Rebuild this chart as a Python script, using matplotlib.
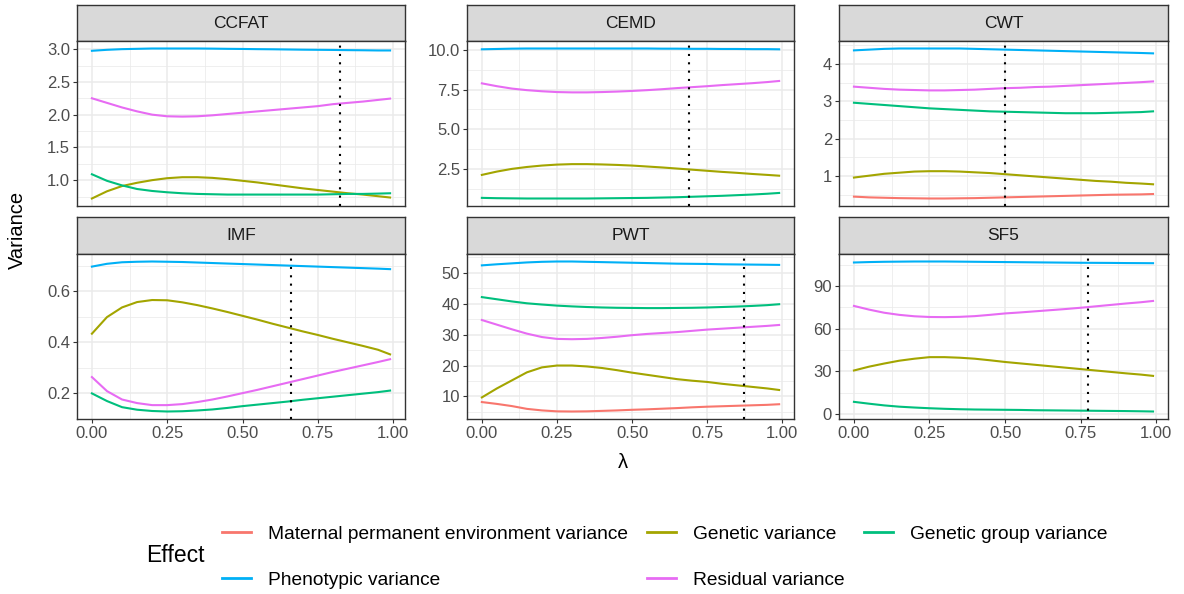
import matplotlib
matplotlib.use("Agg")
import matplotlib.pyplot as plt
import numpy as np

plt.rcParams["font.family"] = ["Liberation Sans", "DejaVu Sans"]

# --- data ---
lam = [0, .05, .1, .15, .2, .25, .3, .35, .4, .45, .5,
       .55, .6, .65, .7, .75, .8, .85, .9, .95, .99]

traits = ["CCFAT", "CEMD", "CWT", "IMF", "PWT", "SF5"]
lam_opt = [0.824, 0.69, 0.50, 0.66, 0.874, 0.774]

effects = ["Maternal permanent environment variance", "Genetic variance",
           "Genetic group variance", "Phenotypic variance", "Residual variance"]
colores = ["#F8766D", "#A3A500", "#00BF7D", "#00B0F6", "#E76BF3"]

ccfat_mat = None
ccfat_gen = [0.72, 0.83, 0.91, 0.96, 1.0, 1.03, 1.045, 1.045, 1.035, 1.015, 0.99,
             0.965, 0.935, 0.905, 0.875, 0.85, 0.825, 0.8, 0.78, 0.755, 0.735]
ccfat_gg = [1.09, 0.99, 0.92, 0.865, 0.835, 0.815, 0.8, 0.79, 0.785, 0.78, 0.78,
            0.78, 0.78, 0.78, 0.78, 0.78, 0.785, 0.79, 0.79, 0.795, 0.8]
ccfat_phen = [2.975, 2.99, 3.0, 3.005, 3.01, 3.01, 3.01, 3.01, 3.008, 3.005, 3.003,
              3.0, 2.998, 2.995, 2.992, 2.99, 2.988, 2.985, 2.983, 2.98, 2.98]
ccfat_res = [2.25, 2.18, 2.11, 2.05, 2.0, 1.975, 1.97, 1.975, 1.99, 2.01, 2.03,
             2.05, 2.07, 2.09, 2.11, 2.13, 2.16, 2.18, 2.2, 2.225, 2.245]

cemd_mat = None
cemd_gen = [2.12, 2.33, 2.5, 2.62, 2.71, 2.77, 2.8, 2.8, 2.78, 2.75, 2.71,
            2.65, 2.59, 2.52, 2.45, 2.38, 2.31, 2.25, 2.18, 2.12, 2.07]
cemd_gg = [0.67, 0.65, 0.64, 0.63, 0.63, 0.63, 0.63, 0.63, 0.64, 0.65, 0.66,
           0.67, 0.69, 0.71, 0.74, 0.77, 0.8, 0.84, 0.88, 0.93, 0.98]
cemd_phen = [10.05, 10.07, 10.09, 10.1, 10.1, 10.1, 10.1, 10.1, 10.1, 10.1, 10.1,
             10.1, 10.09, 10.09, 10.08, 10.08, 10.07, 10.07, 10.06, 10.06, 10.05]
cemd_res = [7.9, 7.72, 7.57, 7.47, 7.4, 7.35, 7.33, 7.33, 7.35, 7.38, 7.42,
            7.47, 7.53, 7.6, 7.66, 7.72, 7.79, 7.85, 7.91, 7.98, 8.05]

cwt_mat = [0.45, 0.43, 0.42, 0.41, 0.405, 0.40, 0.40, 0.405, 0.41, 0.42, 0.43,
           0.44, 0.45, 0.46, 0.47, 0.48, 0.49, 0.5, 0.505, 0.51, 0.52]
cwt_gen = [0.96, 1.01, 1.06, 1.09, 1.12, 1.13, 1.13, 1.12, 1.1, 1.08, 1.05,
           1.02, 0.99, 0.96, 0.93, 0.9, 0.87, 0.85, 0.82, 0.8, 0.78]
cwt_gg = [2.96, 2.93, 2.9, 2.87, 2.84, 2.81, 2.79, 2.77, 2.75, 2.73, 2.72,
          2.71, 2.7, 2.69, 2.68, 2.68, 2.68, 2.69, 2.7, 2.71, 2.73]
cwt_phen = [4.36, 4.38, 4.4, 4.41, 4.41, 4.41, 4.41, 4.41, 4.4, 4.39, 4.38,
            4.37, 4.36, 4.35, 4.34, 4.33, 4.32, 4.31, 4.3, 4.29, 4.28]
cwt_res = [3.39, 3.36, 3.33, 3.31, 3.3, 3.29, 3.29, 3.3, 3.31, 3.33, 3.35,
           3.36, 3.38, 3.39, 3.41, 3.43, 3.45, 3.47, 3.49, 3.51, 3.53]

imf_mat = None
imf_gen = [0.433, 0.498, 0.536, 0.557, 0.565, 0.564, 0.556, 0.545, 0.532, 0.518, 0.503,
           0.488, 0.472, 0.457, 0.442, 0.428, 0.413, 0.399, 0.385, 0.37, 0.352]
imf_gg = [0.199, 0.169, 0.145, 0.135, 0.13, 0.128, 0.129, 0.132, 0.136, 0.142, 0.149,
          0.155, 0.161, 0.167, 0.174, 0.18, 0.186, 0.192, 0.198, 0.204, 0.21]
imf_phen = [0.696, 0.707, 0.713, 0.715, 0.716, 0.715, 0.714, 0.712, 0.71, 0.708, 0.706,
            0.704, 0.702, 0.70, 0.698, 0.696, 0.694, 0.692, 0.69, 0.688, 0.686]
imf_res = [0.263, 0.208, 0.175, 0.161, 0.153, 0.153, 0.157, 0.165, 0.175, 0.187, 0.2,
           0.213, 0.227, 0.241, 0.255, 0.269, 0.283, 0.296, 0.309, 0.322, 0.333]

pwt_mat = [8.2, 7.6, 6.9, 6.0, 5.5, 5.2, 5.15, 5.2, 5.35, 5.5, 5.7,
           5.85, 6.05, 6.25, 6.5, 6.7, 6.85, 7.0, 7.15, 7.3, 7.5]
pwt_gen = [9.7, 12.6, 15.2, 17.8, 19.4, 20.0, 20.0, 19.7, 19.2, 18.5, 17.7,
           17.0, 16.3, 15.6, 15.1, 14.7, 14.1, 13.6, 13.1, 12.6, 12.1]
pwt_gg = [42.1, 41.4, 40.7, 40.1, 39.7, 39.35, 39.1, 38.9, 38.75, 38.65, 38.6,
          38.55, 38.55, 38.6, 38.65, 38.75, 38.9, 39.05, 39.25, 39.5, 39.8]
pwt_phen = [52.35, 52.7, 53.0, 53.3, 53.5, 53.6, 53.6, 53.5, 53.4, 53.3, 53.2,
            53.1, 53.0, 52.9, 52.85, 52.8, 52.7, 52.65, 52.6, 52.55, 52.5]
pwt_res = [34.7, 33.2, 31.7, 30.3, 29.2, 28.6, 28.5, 28.6, 28.9, 29.3, 29.8,
           30.2, 30.5, 30.8, 31.2, 31.6, 31.9, 32.2, 32.5, 32.8, 33.1]

sf5_mat = None
sf5_gen = [30.6, 33.3, 35.5, 37.5, 38.9, 40.0, 40.0, 39.6, 38.9, 37.8, 36.6,
           35.6, 34.6, 33.6, 32.6, 31.6, 30.6, 29.6, 28.6, 27.7, 26.8]
sf5_gg = [8.5, 7.2, 6.0, 5.1, 4.5, 4.0, 3.6, 3.3, 3.1, 3.0, 2.9,
          2.8, 2.6, 2.5, 2.4, 2.3, 2.2, 2.1, 2.0, 1.85, 1.7]
sf5_phen = [106.7, 107.0, 107.2, 107.3, 107.4, 107.4, 107.4, 107.3, 107.2, 107.1, 107.0,
            106.9, 106.8, 106.7, 106.6, 106.5, 106.45, 106.4, 106.3, 106.25, 106.2]
sf5_res = [76.1, 73.5, 71.3, 69.8, 68.8, 68.3, 68.2, 68.4, 68.9, 69.8, 70.8,
           71.5, 72.3, 73.1, 73.9, 74.8, 75.8, 76.8, 77.8, 78.7, 79.6]

series = {
    "CCFAT": [ccfat_mat, ccfat_gen, ccfat_gg, ccfat_phen, ccfat_res],
    "CEMD": [cemd_mat, cemd_gen, cemd_gg, cemd_phen, cemd_res],
    "CWT": [cwt_mat, cwt_gen, cwt_gg, cwt_phen, cwt_res],
    "IMF": [imf_mat, imf_gen, imf_gg, imf_phen, imf_res],
    "PWT": [pwt_mat, pwt_gen, pwt_gg, pwt_phen, pwt_res],
    "SF5": [sf5_mat, sf5_gen, sf5_gg, sf5_phen, sf5_res],
}

yticks = {
    "CCFAT": ([1.0, 1.5, 2.0, 2.5, 3.0], "{:.1f}"),
    "CEMD": ([2.5, 5.0, 7.5, 10.0], "{:.1f}"),
    "CWT": ([1, 2, 3, 4], "{:.0f}"),
    "IMF": ([0.2, 0.4, 0.6], "{:.1f}"),
    "PWT": ([10, 20, 30, 40, 50], "{:.0f}"),
    "SF5": ([0, 30, 60, 90], "{:.0f}"),
}

# --- layout (pixels) ---
W, H = 1184, 594
fig = plt.figure(figsize=(W / 100, H / 100), dpi=100)

cols = [(77, 405), (467, 794), (839, 1168)]
rows = [(5, 41, 206), (217, 254, 419)]  # strip top, panel top, panel bottom

GRID = "#EBEBEB"
DARK = "#333333"


def px_box(x0, x1, y0, y1):
    return [x0 / W, 1 - y1 / H, (x1 - x0) / W, (y1 - y0) / H]


for k, trait in enumerate(traits):
    r, c = divmod(k, 3)
    x0, x1 = cols[c]
    st, pt, pb = rows[r]

    # strip
    sax = fig.add_axes(px_box(x0, x1, st, pt))
    sax.set_facecolor("#D9D9D9")
    sax.set_xticks([])
    sax.set_yticks([])
    for sp in sax.spines.values():
        sp.set_color(DARK)
        sp.set_linewidth(1.0)
    sax.text(0.5, 0.5, trait, ha="center", va="center", fontsize=12.5,
             color="#1A1A1A", transform=sax.transAxes)

    ax = fig.add_axes(px_box(x0, x1, pt, pb))
    for vals, col in zip(series[trait], colores):
        if vals is None:
            continue
        ax.plot(lam, vals, color=col, lw=1.5, zorder=3)
    ax.axvline(lam_opt[k], color="black", ls=(0, (1, 3)), lw=1.5, zorder=4)

    ax.margins(x=0.05, y=0.05)
    ax.autoscale_view()
    lo, hi = ax.get_ylim()

    ticks, fmt = yticks[trait]
    step = ticks[1] - ticks[0]
    ax.set_yticks(ticks)
    ax.set_yticklabels([fmt.format(t) for t in ticks])
    minors = np.arange(ticks[0] - step / 2, hi, step)
    ax.set_yticks([m for m in minors if lo < m < hi], minor=True)
    ax.set_ylim(lo, hi)

    ax.set_xticks([0, 0.25, 0.5, 0.75, 1.0])
    ax.set_xticks([0.125, 0.375, 0.625, 0.875], minor=True)
    ax.set_xlim(-0.0495, 1.0395)

    ax.grid(True, which="major", color=GRID, lw=1.1, zorder=0)
    ax.grid(True, which="minor", color=GRID, lw=0.55, zorder=0)
    ax.set_axisbelow(True)
    ax.tick_params(which="minor", length=0)
    ax.tick_params(which="major", length=3, width=0.8, color=DARK,
                   labelsize=12, labelcolor="#4D4D4D", pad=2)
    if r == 1:
        ax.set_xticklabels(["0.00", "0.25", "0.50", "0.75", "1.00"])
    else:
        ax.tick_params(axis="x", which="major", length=0, labelbottom=False)
    for sp in ax.spines.values():
        sp.set_color(DARK)
        sp.set_linewidth(1.0)

fig.text(17 / W, 1 - 230 / H, "Variance", rotation=90, ha="center", va="center",
         fontsize=14.5, color="black")
fig.text(623 / W, 1 - 463 / H, "λ", ha="center", va="center",
         fontsize=14.5, color="black")

# legend: row-major look via column-major ordering
order = [0, 3, 1, 4, 2]
handles = [plt.Line2D([], [], color=colores[i], lw=2) for i in order]
labels = [effects[i] for i in order]
fig.legend(handles, labels, ncol=3, loc="center left",
           bbox_to_anchor=(222 / W, 1 - 557 / H), frameon=False,
           borderpad=0, borderaxespad=0,
           fontsize=13.8, handlelength=1.5, columnspacing=1.0,
           labelspacing=1.5, handletextpad=0.9)
fig.text(146 / W, 1 - 555 / H, "Effect", ha="left", va="center", fontsize=16.5)

fig.savefig("out.png", dpi=100)
